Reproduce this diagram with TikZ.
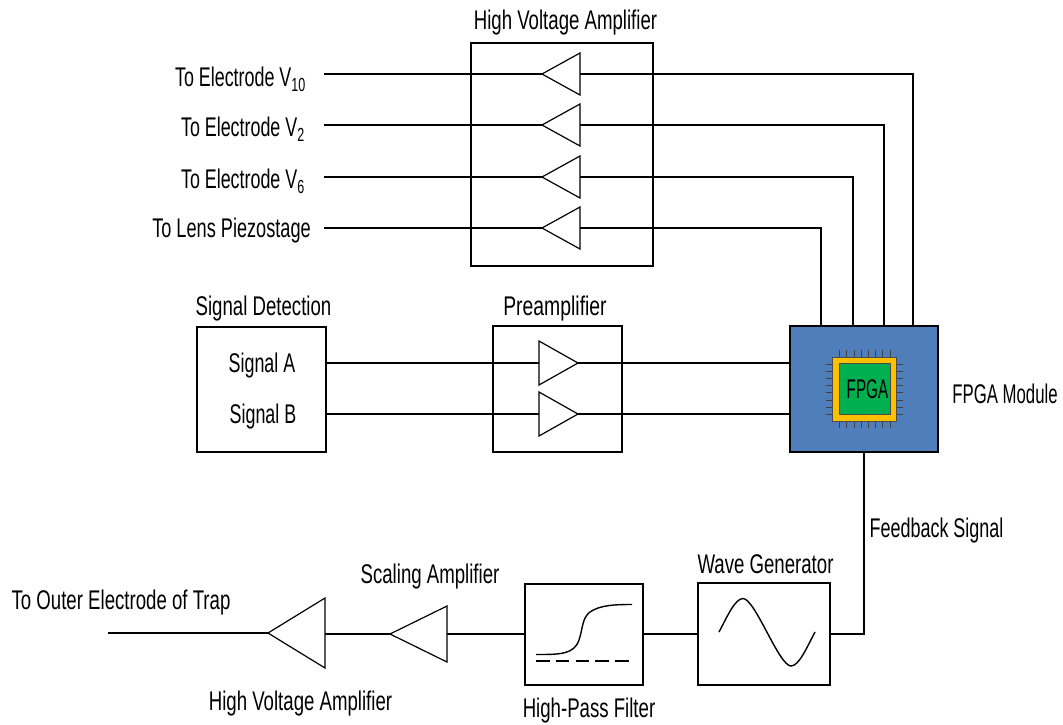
\documentclass[tikz,border=0pt]{standalone}
\usepackage{fontspec}
\usepackage{graphicx}
\setmainfont[FakeStretch=0.69]{Liberation Sans}
\definecolor{fpgablue}{RGB}{79,126,186}
\definecolor{chiporange}{RGB}{255,192,0}
\definecolor{chipgreen}{RGB}{0,176,80}
\tikzset{
  x=1pt,y=-1pt,
  box/.style={draw=black,line width=1.7pt,inner sep=0pt,outer sep=0pt,anchor=north west},
  wire/.style={draw=black,line width=1.7pt,line cap=butt},
  curve/.style={draw=black,line width=1.4pt},
  tribox/.style={draw=black,line width=1.2pt,fill=white},
  txt/.style={font=\fontsize{27}{27}\selectfont,text=black,inner sep=0pt},
  pin/.style={draw=black!75,line width=0.7pt}
}
\newcommand{\tri}[5]{% name, tip x, base x, y, half height
  \coordinate (#1t) at (#2,#4);
  \coordinate (#1b) at (#3,#4);
  \draw[tribox] (#2,#4) -- (#3,#4-#5) -- (#3,#4+#5) -- cycle;
}
\begin{document}
\begin{tikzpicture}
\useasboundingbox (0,0) rectangle (1063,724);
% boxes
\node[box,minimum width=182pt,minimum height=223pt] (hv) at (471,43) {};
\node[box,minimum width=129pt,minimum height=125pt] (det) at (197,327) {};
\node[box,minimum width=129pt,minimum height=126pt] (pre) at (493,326) {};
\node[box,minimum width=148pt,minimum height=126pt,fill=fpgablue] (fpga) at (790,326) {};
\node[box,minimum width=118pt,minimum height=101pt] (hpf) at (525,584) {};
\node[box,minimum width=132pt,minimum height=102pt] (wave) at (698,583) {};
% free ends
\coordinate (e1) at (324,74);
\coordinate (e2) at (324,125);
\coordinate (e3) at (324,177);
\coordinate (e4) at (324,228);
\coordinate (outer) at (108,633);
\coordinate (sa) at (326,363);
\coordinate (sb) at (326,414);
\coordinate (f1) at (913,326);
\coordinate (f2) at (884,326);
\coordinate (f3) at (853,326);
\coordinate (f4) at (821,326);
\coordinate (fa) at (790,363);
\coordinate (fb) at (790,414);
\coordinate (fd) at (864,452);
\coordinate (wr) at (830,634);
\coordinate (wl) at (698,634);
\coordinate (hr) at (643,634);
\coordinate (hl) at (525,634);
% wires
\draw[wire] (e1) -- (542,74);
\draw[wire] (e2) -- (542,125);
\draw[wire] (e3) -- (542,177);
\draw[wire] (e4) -- (542,228);
\draw[wire] (580,74) -| (f1);
\draw[wire] (580,125) -| (f2);
\draw[wire] (580,177) -| (f3);
\draw[wire] (580,228) -| (f4);
\draw[wire] (sa) -- (539,363);
\draw[wire] (sb) -- (539,414);
\draw[wire] (578,363) -- (fa);
\draw[wire] (578,414) -- (fb);
\draw[wire] (fd) |- (wr);
\draw[wire] (wl) -- (hr);
\draw[wire] (hl) -- (447,634);
\draw[wire] (390,634) -- (325,634);
\draw[wire] (268,633) -- (outer);
% triangles
\tri{a}{542}{580}{74}{21}
\tri{b}{542}{580}{125}{21}
\tri{c}{542}{580}{177}{21}
\tri{d}{542}{580}{228}{21}
\tri{p}{578}{539}{363}{22}
\tri{q}{578}{539}{414}{22}
\tri{s}{390}{447}{634}{28}
\tri{v}{268}{325}{633}{35}
% FPGA chip
\foreach \i in {0,...,7}{
  \draw[pin] (839.5+7.2*\i,350) -- (839.5+7.2*\i,428);
  \draw[pin] (826,364+7.2*\i) -- (903,364+7.2*\i);
}
\node[draw=black!70,line width=0.7pt,fill=chiporange,inner sep=0pt,outer sep=0pt,anchor=north west,minimum width=64.5pt,minimum height=64pt] (chip) at (832,357) {};
\node[draw=black!70,line width=0.7pt,fill=chipgreen,inner sep=0pt,outer sep=0pt,minimum width=51pt,minimum height=51pt,font=\fontsize{27}{27}\selectfont] (core) at (864.5,389) {\hspace{6pt}\scalebox{0.82}[1]{FPGA}};
% filter icon
\draw[curve] (536,654.5) .. controls (560,654.5) and (574,654.5) .. (579,640)
  .. controls (583,628) and (582,618) .. (590,612) .. controls (600,605) and (615,604.5) .. (632,604.5);
\draw[curve,dash pattern=on 13.6pt off 6.2pt] (536,661) -- (630,661);
% sine icon
\draw[curve] (719,632) .. controls (727,617) and (735,598.5) .. (743,598.5)
  .. controls (755,598.5) and (779,666) .. (791,666)
  .. controls (799,666) and (807,647) .. (815,632);
% labels
\node[txt] (t1) at (565.5,23) {High Voltage Amplifier};
\node[txt,anchor=east] (t2) at (306,79) {\scalebox{0.96}[1]{To Electrode V\textsubscript{10}}};
\node[txt,anchor=east] (t3) at (305,129) {\scalebox{0.96}[1]{To Electrode V\textsubscript{2}}};
\node[txt,anchor=east] (t4) at (305,181) {\scalebox{0.96}[1]{To Electrode V\textsubscript{6}}};
\node[txt,anchor=east] (t5) at (311,231) {\scalebox{0.975}[1]{To Lens Piezostage}};
\node[txt] (t6) at (263.5,309) {Signal Detection};
\node[txt] (t7) at (262,366) {\scalebox{0.96}[1]{Signal A}};
\node[txt] (t8) at (263,417) {\scalebox{0.96}[1]{Signal B}};
\node[txt] (t9) at (555,309) {\scalebox{1.04}[1]{Preamplifier}};
\node[txt] (t10) at (1005,394) {\scalebox{0.9}[1]{FPGA Module}};
\node[txt] (t11) at (936.5,531) {\scalebox{0.965}[1]{Feedback Signal}};
\node[txt] (t12) at (765.5,564) {Wave Generator};
\node[txt] (t13) at (430,577) {Scaling Amplifier};
\node[txt] (t14) at (121,603) {To Outer Electrode of Trap};
\node[txt] (t15) at (300.5,704) {High Voltage Amplifier};
\node[txt] (t16) at (589,711) {High-Pass Filter};
\end{tikzpicture}
\end{document}
